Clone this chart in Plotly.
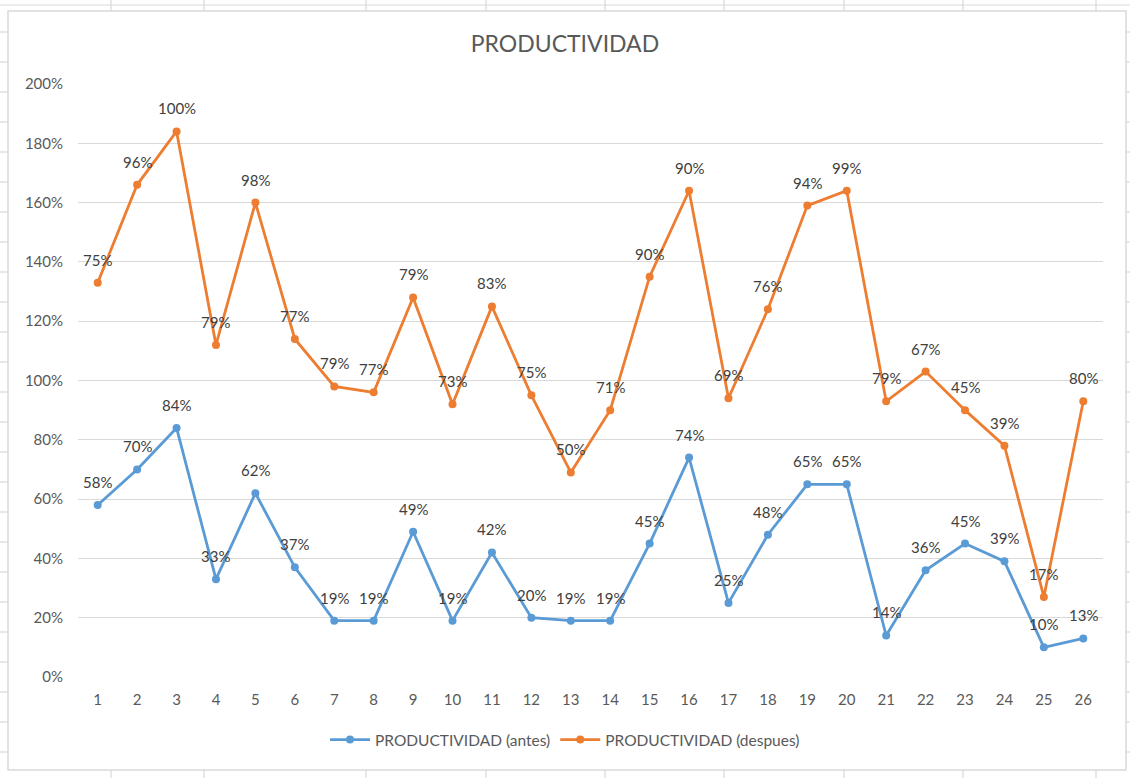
import plotly.graph_objects as go

# Productividad por punto de medición (valores en %)
puntos = list(range(1, 27))
antes = [58, 70, 84, 33, 62, 37, 19, 19, 49, 19, 42, 20, 19, 19, 45, 74, 25, 48, 65, 65, 14, 36, 45, 39, 10, 13]
despues = [75, 96, 100, 79, 98, 77, 79, 77, 79, 73, 83, 75, 50, 71, 90, 90, 69, 76, 94, 99, 79, 67, 45, 39, 17, 80]

# Line chart is stacked: "despues" is drawn on top of "antes"
apilado = [a + d for a, d in zip(antes, despues)]

W, H = 1130, 778
ML, MR, MT, MB = 78, 27, 84, 101
PW, PH = W - ML - MR, H - MT - MB

AZUL = "#5B9BD5"
NARANJA = "#ED7D31"
GRIS_TXT = "#595959"
GRID = "#D9D9D9"
FONT = "Lato, Open Sans, sans-serif"


def px(x):
    return (x - ML) / PW


def py(y):
    return 1 - (y - MT) / PH


fig = go.Figure()
fig.add_trace(go.Scatter(
    x=puntos, y=[v / 100 for v in antes], name="PRODUCTIVIDAD (antes)",
    mode="lines+markers", line=dict(color=AZUL, width=2.8),
    marker=dict(size=8, color=AZUL), cliponaxis=False,
))
fig.add_trace(go.Scatter(
    x=puntos, y=[v / 100 for v in apilado], name="PRODUCTIVIDAD (despues)",
    mode="lines+markers", line=dict(color=NARANJA, width=2.8),
    marker=dict(size=8, color=NARANJA), cliponaxis=False,
))

label_font = dict(family=FONT, size=15, color="#404040")
annotations = []
for p, a in zip(puntos, antes):
    annotations.append(dict(x=p, y=a / 100, text=f"{a}%", showarrow=False, yshift=23,
                            font=label_font))
for p, s, d in zip(puntos, apilado, despues):
    annotations.append(dict(x=p, y=s / 100, text=f"{d}%", showarrow=False, yshift=23,
                            font=label_font))

# Chart frame and surrounding worksheet cell lines
shapes = []
thin = dict(color=GRID, width=1.2)
shapes.append(dict(type="rect", xref="paper", yref="paper", x0=px(8), x1=px(1126),
                   y0=py(11), y1=py(770), line=dict(color=GRID, width=1.5), layer="below"))
shapes.append(dict(type="line", xref="paper", yref="paper", x0=px(0), x1=px(1130),
                   y0=py(5), y1=py(5), line=thin))
for cx in [111, 204, 366, 486, 605, 724, 844, 963, 1096]:
    shapes.append(dict(type="line", xref="paper", yref="paper", x0=px(cx), x1=px(cx),
                       y0=py(0), y1=py(11), line=thin))
    shapes.append(dict(type="line", xref="paper", yref="paper", x0=px(cx), x1=px(cx),
                       y0=py(770), y1=py(778), line=thin))
for ry in range(32, 770, 30):
    shapes.append(dict(type="line", xref="paper", yref="paper", x0=px(0), x1=px(8),
                       y0=py(ry), y1=py(ry), line=thin))
    shapes.append(dict(type="line", xref="paper", yref="paper", x0=px(1126), x1=px(1130),
                       y0=py(ry), y1=py(ry), line=thin))

fig.update_layout(
    width=W, height=H,
    margin=dict(l=ML, r=MR, t=MT, b=MB),
    paper_bgcolor="white", plot_bgcolor="white",
    title=dict(text="PRODUCTIVIDAD", x=0.5, xref="container", xanchor="center",
               y=1 - 44 / H, yref="container", yanchor="middle",
               font=dict(family=FONT, size=23, color=GRIS_TXT)),
    xaxis=dict(range=[0.5, 26.5], tickmode="array", tickvals=puntos,
               ticktext=[str(p) for p in puntos], showgrid=False, zeroline=False,
               showline=False, ticks="", ticklabelstandoff=12,
               tickfont=dict(family=FONT, size=15, color=GRIS_TXT)),
    yaxis=dict(range=[0, 2.0], dtick=0.2, tickformat=".0%", showgrid=True,
               gridcolor=GRID, gridwidth=1.2, zeroline=False, showline=False,
               ticks="", ticklabelstandoff=14,
               tickfont=dict(family=FONT, size=15, color=GRIS_TXT)),
    showlegend=True,
    legend=dict(orientation="h", x=0.5, xref="container", xanchor="center",
                y=1 - 740 / H, yref="container", yanchor="middle",
                font=dict(family=FONT, size=15.5, color=GRIS_TXT),
                itemwidth=40, bgcolor="rgba(0,0,0,0)"),
    annotations=annotations,
    shapes=shapes,
)

fig.write_html("out.html")
